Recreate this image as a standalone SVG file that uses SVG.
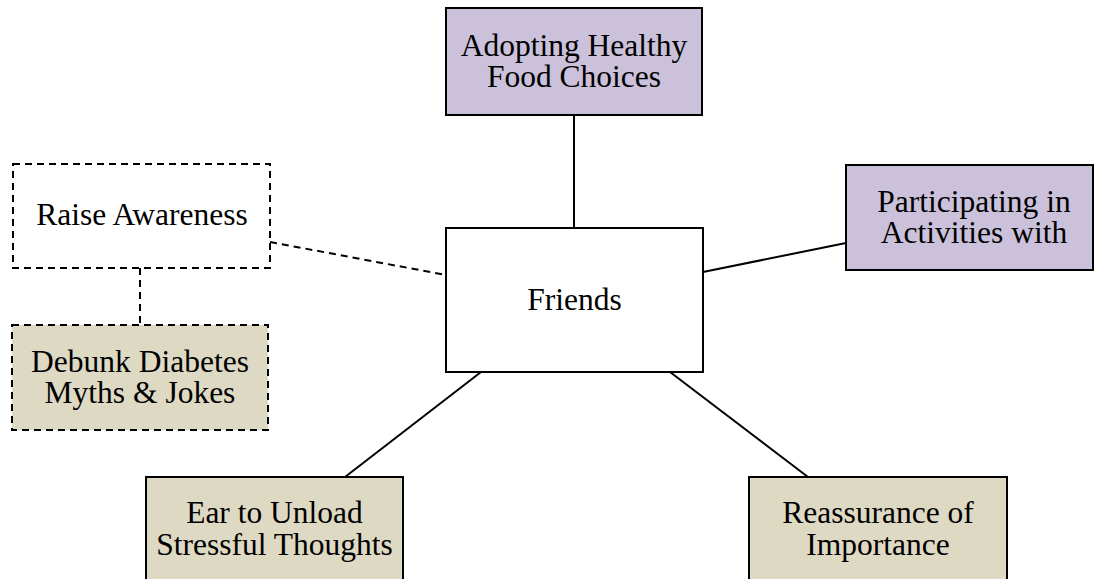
<svg xmlns="http://www.w3.org/2000/svg" width="1094" height="579" viewBox="0 0 1094 579">
  <style>
    .box { stroke: #000; stroke-width: 2; }
    .dash { stroke-dasharray: 7 5; }
    .purple { fill: #ccc1da; }
    .beige { fill: #ddd9c3; }
    .plain { fill: #ffffff; }
    .lbl { font-family: "Liberation Serif", "Times New Roman", serif; font-size: 31.5px; fill: #000; text-anchor: middle; }
    .link { stroke: #000; stroke-width: 2; fill: none; }
  </style>
  <rect width="1094" height="579" fill="#ffffff"/>

  <!-- connectors -->
  <g id="connectors">
    <line class="link" x1="574" y1="115" x2="574" y2="228"/>
    <line class="link" x1="703" y1="272" x2="846" y2="243"/>
    <line class="link dash" x1="270" y1="242" x2="446" y2="275"/>
    <line class="link dash" x1="140" y1="268" x2="140" y2="325"/>
    <line class="link" x1="481" y1="372" x2="345" y2="477"/>
    <line class="link" x1="670" y1="372" x2="808" y2="477"/>
  </g>

  <g id="node-food">
    <rect class="box purple" x="446" y="8" width="256" height="107"/>
    <text class="lbl" x="574" y="56">Adopting Healthy</text>
    <text class="lbl" x="574" y="87">Food Choices</text>
  </g>

  <g id="node-friends">
    <rect class="box plain" x="446" y="228" width="257" height="144"/>
    <text class="lbl" x="574.5" y="310">Friends</text>
  </g>

  <g id="node-activities">
    <rect class="box purple" x="846" y="165" width="247" height="105"/>
    <text class="lbl" x="974" y="212">Participating in</text>
    <text class="lbl" x="974" y="243">Activities with</text>
  </g>

  <g id="node-awareness">
    <rect class="box plain dash" x="13" y="164" width="257" height="104"/>
    <text class="lbl" x="142" y="225">Raise Awareness</text>
  </g>

  <g id="node-myths">
    <rect class="box beige dash" x="12" y="325" width="256" height="105"/>
    <text class="lbl" x="140" y="372">Debunk Diabetes</text>
    <text class="lbl" x="140" y="403">Myths &amp; Jokes</text>
  </g>

  <g id="node-ear">
    <rect class="box beige" x="146" y="477" width="257" height="110"/>
    <text class="lbl" x="274.5" y="523">Ear to Unload</text>
    <text class="lbl" x="274.5" y="555">Stressful Thoughts</text>
  </g>

  <g id="node-reassurance">
    <rect class="box beige" x="749" y="477" width="258" height="110"/>
    <text class="lbl" x="878" y="523">Reassurance of</text>
    <text class="lbl" x="878" y="555">Importance</text>
  </g>
</svg>
